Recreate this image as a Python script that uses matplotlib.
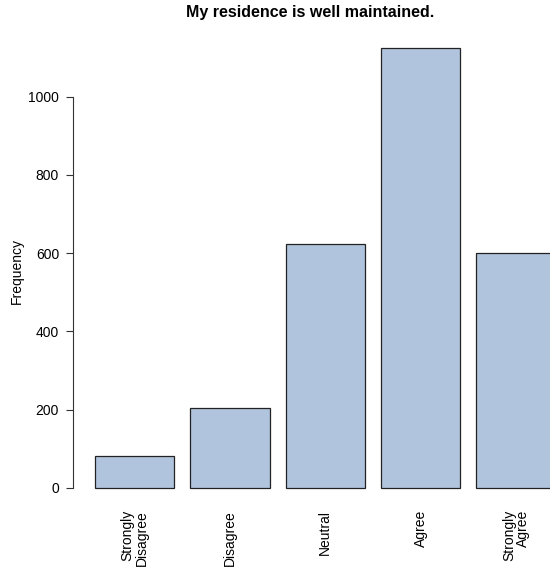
import matplotlib
matplotlib.use("Agg")
import matplotlib.pyplot as plt
from matplotlib.transforms import offset_copy

categories = ["Strongly\nDisagree", "Disagree", "Neutral", "Agree", "Strongly\nAgree"]
counts = [82, 205, 623, 1125, 601]
yticks = [0, 200, 400, 600, 800, 1000]
title = "My residence is well maintained."
ylabel = "Frequency"

plt.rcParams['font.family'] = ['Liberation Sans', 'DejaVu Sans']

W, H = 550, 573
fig = plt.figure(figsize=(W / 100, H / 100), dpi=100)

# pixel geometry of plot region
px_left, px_right = 73, 550
px_top, px_bottom = 30, 505.6
ax = fig.add_axes([px_left / W, 1 - px_bottom / H, (px_right - px_left) / W, (px_bottom - px_top) / H])

pitch = 1.2
centers = [0.7 + i * pitch for i in range(len(counts))]
ax.bar(centers, counts, width=1.0, color="#B0C4DE", edgecolor="#222222", linewidth=0.9)

ax.set_xlim(-0.077, 5.928)
ax.set_ylim(-45, 1170)

for s in ["top", "right", "bottom"]:
    ax.spines[s].set_visible(False)
ax.spines["left"].set_bounds(0, 1000)
ax.spines["left"].set_color("#333333")
ax.spines["left"].set_linewidth(0.8)

ax.set_yticks(yticks)
ax.set_yticklabels([str(v) for v in yticks], fontsize=10)
ax.tick_params(axis="y", length=5, width=0.8, color="#333333", pad=5)

ax.set_xticks([])
trans = offset_copy(ax.get_xaxis_transform(), fig=fig, x=0, y=-(510 - px_bottom) * 0.72, units="points")
for c, lab in zip(centers, categories):
    ax.text(c, 0, lab, transform=trans, rotation=90,
            ha="center", va="top", multialignment="right", fontsize=10, clip_on=False,
            linespacing=1.0)

fig.text(310 / W, 1 - 13 / H, title, ha="center", va="center", fontsize=11.5, fontweight="bold")
fig.text(17 / W, 1 - 271 / H, ylabel, ha="center", va="center", rotation=90, fontsize=10)

fig.savefig("out.png", dpi=100)
